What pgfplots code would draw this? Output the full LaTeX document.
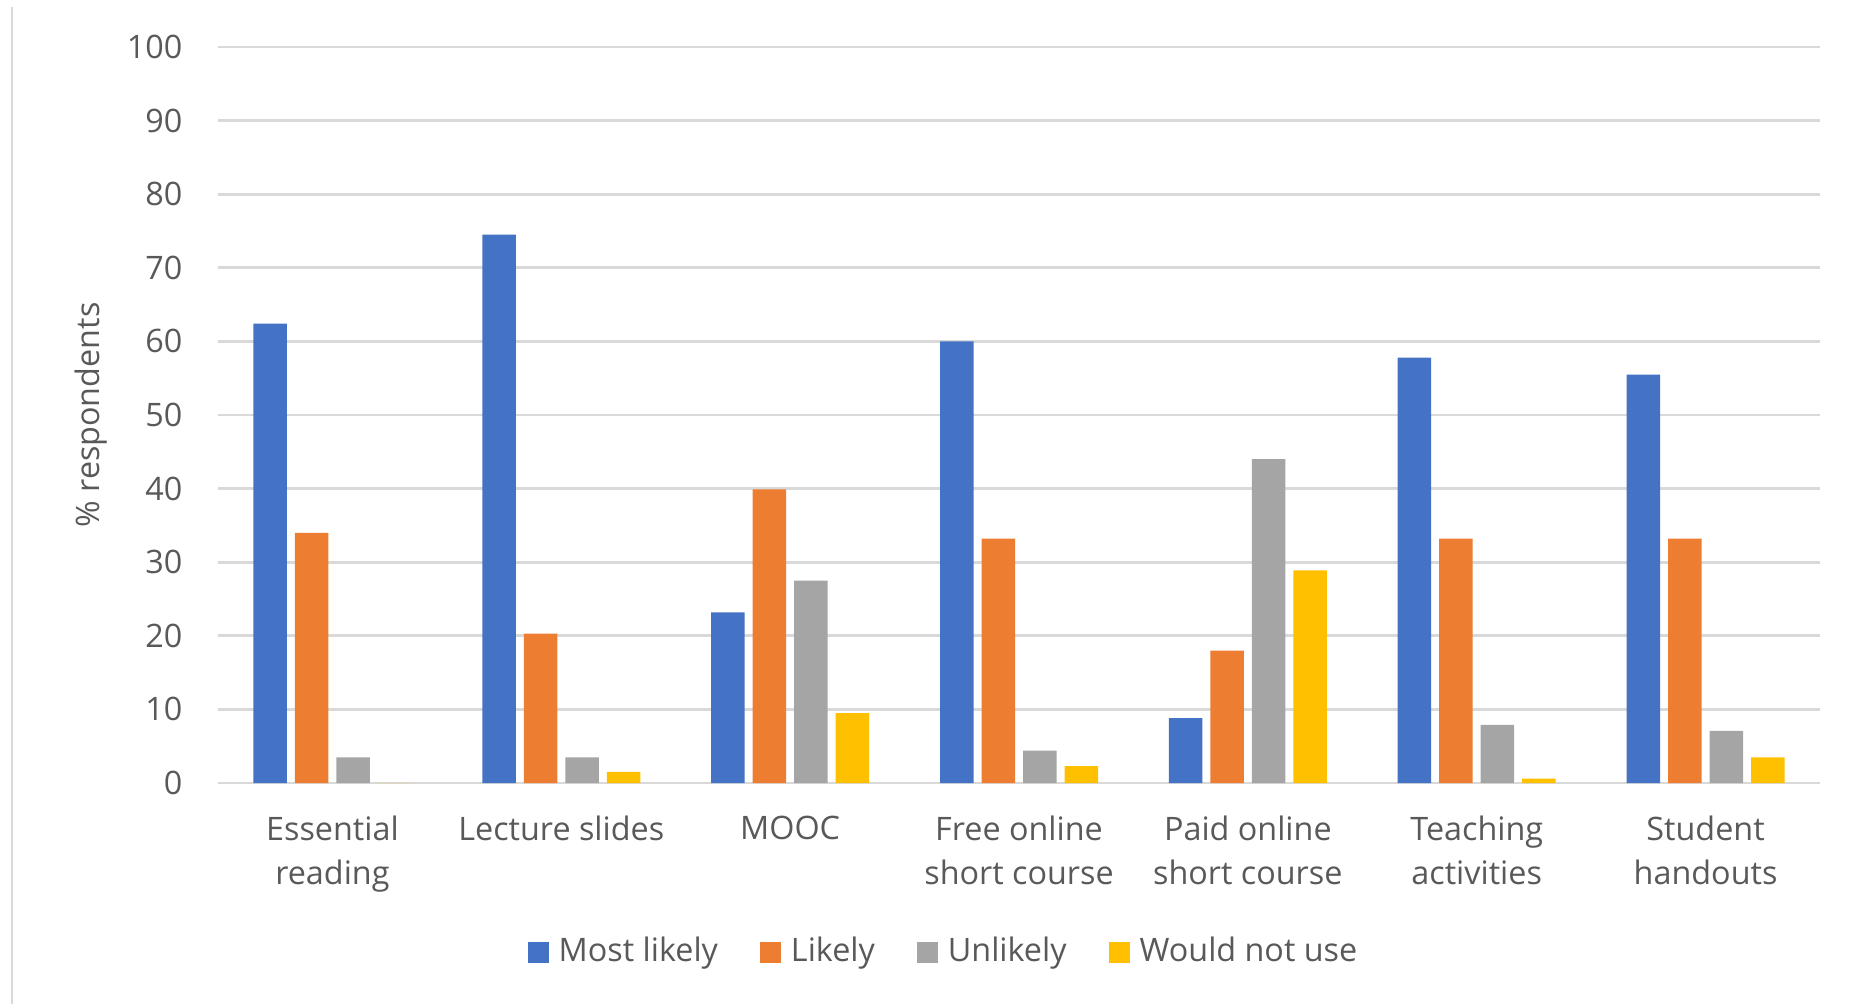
\documentclass[border=0pt]{standalone}
\usepackage{fontspec}
\setmainfont{Open Sans}
\usepackage{pgfplots}
\pgfplotsset{compat=1.18}
\definecolor{cBlue}{HTML}{4472C4}
\definecolor{cOrange}{HTML}{ED7D31}
\definecolor{cGray}{HTML}{A5A5A5}
\definecolor{cYellow}{HTML}{FFC000}
\definecolor{cGrid}{HTML}{D9D9D9}
\definecolor{cText}{HTML}{595959}
\begin{document}
\begin{tikzpicture}
\useasboundingbox (-21.8mm,-22.1mm) rectangle (163.9mm,78.3mm);
\begin{axis}[
  scale only axis,
  width=160.2mm, height=73.6mm,
  at={(0,0)}, anchor=south west,
  ymin=0, ymax=100, ytick={0,10,...,100},
  xmin=-0.5, xmax=6.5,
  xtick={0,...,6},
  xticklabels={Essential\\reading, Lecture slides, MOOC, Free online\\short course, Paid online\\short course, Teaching\\activities, Student\\handouts},
  ybar=0.8mm, bar width=3.35mm,
  axis line style={draw=none},
  major tick length=0pt,
  ymajorgrids, grid style={cGrid, line width=0.8pt},
  /pgf/number format/assume math mode=true,
  tick label style={font=\fontsize{9.2}{12.5}\selectfont, text=cText},
  yticklabel style={anchor=east, inner sep=0pt, xshift=-3.5mm},
  xticklabel style={anchor=north, inner sep=0pt, yshift=-3.25mm, align=center},
  ylabel={\% respondents},
  ylabel style={at={(axis description cs:-0.079,0.5)}, anchor=center, rotate=0, font=\fontsize{9.2}{12.5}\selectfont, text=cText},
  legend columns=4,
  legend style={draw=none, fill=none, at={(axis description cs:0.4538,-0.2296)}, anchor=center,
    font=\fontsize{9.2}{12.5}\selectfont, text=cText,
    nodes={inner sep=0.45mm, anchor=west},
    /tikz/every even column/.append style={column sep=3.8mm}},
  legend image code/.code={\fill[#1] (0mm,-1.05mm) rectangle (2.1mm,1.05mm); \path (2.6mm,0);},
]
\addplot[fill=cBlue, draw=none] coordinates {(0,62.4) (1,74.5) (2,23.2) (3,60.0) (4,8.8) (5,57.8) (6,55.5)};
\addplot[fill=cOrange, draw=none] coordinates {(0,34.0) (1,20.3) (2,39.9) (3,33.2) (4,18.0) (5,33.2) (6,33.2)};
\addplot[fill=cGray, draw=none] coordinates {(0,3.5) (1,3.5) (2,27.5) (3,4.4) (4,44.0) (5,7.9) (6,7.1)};
\addplot[fill=cYellow, draw=none] coordinates {(0,0) (1,1.5) (2,9.5) (3,2.3) (4,28.9) (5,0.6) (6,3.5)};
\legend{Most likely, Likely, Unlikely, Would not use}
\end{axis}
\draw[cGrid, line width=0.8pt] (-20.6mm,77.6mm) -- (-20.6mm,-22.1mm);
\end{tikzpicture}
\end{document}
